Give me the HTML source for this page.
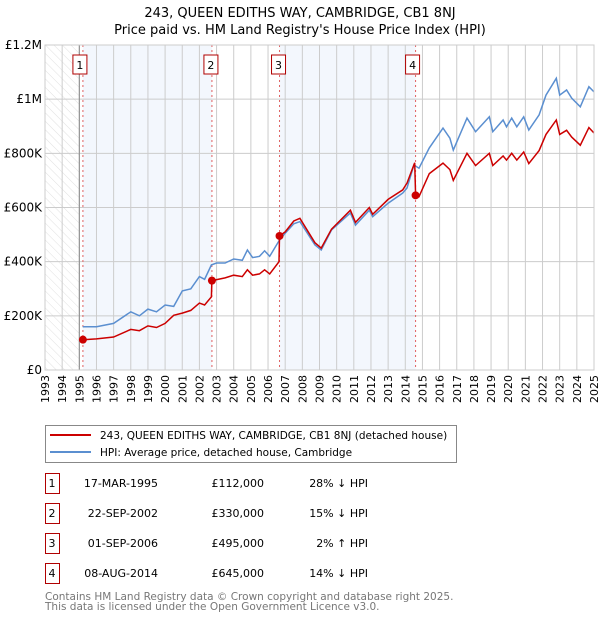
<!DOCTYPE html>
<html><head><meta charset="utf-8"><style>
body{margin:0;background:#fff;font-family:"DejaVu Sans","Liberation Sans",sans-serif;}
svg text{font-family:"DejaVu Sans","Liberation Sans",sans-serif;}
</style></head><body>
<svg id="c" width="600" height="620" viewBox="0 0 600 620" xmlns="http://www.w3.org/2000/svg">
<defs><pattern id="hatch" width="6" height="6" patternUnits="userSpaceOnUse" patternTransform="rotate(-45)"><line x1="0" y1="0" x2="0" y2="6" stroke="#d8d8d8" stroke-width="0.8"/></pattern></defs>
<text x="300" y="17" text-anchor="middle" font-size="13">243, QUEEN EDITHS WAY, CAMBRIDGE, CB1 8NJ</text>
<text x="300" y="34" text-anchor="middle" font-size="13">Price paid vs. HM Land Registry's House Price Index (HPI)</text>
<g id="plot"></g>
<g>
<rect x="45.5" y="425.5" width="411" height="37" fill="#fff" stroke="#888"/>
<line x1="50" y1="435" x2="91" y2="435" stroke="#cc0000" stroke-width="2"/>
<text x="100" y="439" font-size="10.5">243, QUEEN EDITHS WAY, CAMBRIDGE, CB1 8NJ (detached house)</text>
<line x1="50" y1="452" x2="91" y2="452" stroke="#5b8fd0" stroke-width="2"/>
<text x="100" y="456" font-size="10.5">HPI: Average price, detached house, Cambridge</text>
</g>
<g id="table" font-size="11"></g>
<text x="45" y="600" font-size="10.5" fill="#777">Contains HM Land Registry data © Crown copyright and database right 2025.</text>
<text x="45" y="610" font-size="10.5" fill="#777">This data is licensed under the Open Government Licence v3.0.</text>
</svg>
<script>
const hpiYears=[1995.2,1996,1997,1998,1998.5,1999,1999.5,2000,2000.5,2001,2001.5,2002,2002.3,2002.7,2003,2003.5,2004,2004.5,2004.8,2005.1,2005.5,2005.8,2006.1,2006.67,2007,2007.5,2007.86,2008.73,2009.1,2009.7,2010.8,2011.1,2011.9,2012.1,2013,2013.85,2014.1,2014.5,2014.8,2015.4,2016.2,2016.6,2016.8,2017.6,2018.1,2018.9,2019.1,2019.7,2019.9,2020.2,2020.5,2020.9,2021.2,2021.8,2022.2,2022.8,2023.0,2023.4,2023.7,2024.2,2024.7,2025.0];
const hpiValues=[160,160,172,215,200,225,215,240,235,292,300,345,335,388,395,395,410,405,443,415,420,440,420,480,505,540,548,462,443,517,580,535,590,566,616,653,672,757,745,820,893,856,812,930,880,935,880,923,898,930,898,935,886,942,1015,1077,1015,1034,1004,972,1046,1027];
const propYears=[1995.21,1996,1997,1998,1998.5,1999,1999.5,2000,2000.5,2001,2001.5,2002,2002.3,2002.7,2002.73,2003.5,2004,2004.5,2004.8,2005.1,2005.5,2005.8,2006.1,2006.64,2006.67,2007,2007.5,2007.86,2008.73,2009.1,2009.7,2010.8,2011.1,2011.9,2012.1,2013,2013.85,2014.1,2014.55,2014.6,2014.8,2015.4,2016.2,2016.6,2016.8,2017.6,2018.1,2018.9,2019.1,2019.7,2019.9,2020.2,2020.5,2020.9,2021.2,2021.8,2022.2,2022.8,2023.0,2023.4,2023.7,2024.2,2024.7,2025.0];
const propValues=[112,115,122,150,145,163,157,172,202,210,220,247,240,270,330,340,350,345,370,350,355,370,355,400,495,510,550,560,470,450,520,590,545,600,575,630,665,690,765,645,640,725,764,740,700,800,755,800,755,790,775,800,775,805,762,810,870,923,870,885,860,830,895,875];
const saleYears=[1995.21,2002.73,2006.67,2014.6];
const saleValues=[112,330,495,645];
const saleLabels=["1","2","3","4"];
const saleDates=["17-MAR-1995","22-SEP-2002","01-SEP-2006","08-AUG-2014"];
const salePrices=["£112,000","£330,000","£495,000","£645,000"];
const saleHpi=["28% ↓ HPI","15% ↓ HPI","2% ↑ HPI","14% ↓ HPI"];
const yTicks=[0,200,400,600,800,1000,1200];
const yTickLabels=["£0","£200K","£400K","£600K","£800K","£1M","£1.2M"];
const xTicks=[1993,1994,1995,1996,1997,1998,1999,2000,2001,2002,2003,2004,2005,2006,2007,2008,2009,2010,2011,2012,2013,2014,2015,2016,2017,2018,2019,2020,2021,2022,2023,2024,2025];

const X0=45,X1=594,Y0=370,Y1=45;
const xs=y=>X0+(y-1993)/(2025-1993)*(X1-X0);
const ys=v=>Y0-v/1200*(Y0-Y1);
const NS="http://www.w3.org/2000/svg";
const plot=document.getElementById('plot');
function mk(tag,attrs,parent){const e=document.createElementNS(NS,tag);for(const k in attrs)e.setAttribute(k,attrs[k]);(parent||plot).appendChild(e);return e;}

let r;
r=mk('rect',{x:X0,y:Y1,width:X1-X0,height:Y0-Y1,fill:'#fff'});


r=mk('rect',{x:X0,y:Y1,width:xs(1995)-X0,height:Y0-Y1,fill:'url(#hatch)'});


const shades=[[saleYears[0],saleYears[1]],[saleYears[2],saleYears[3]]];
shades.forEach((s,i)=>{const e=mk('rect',{x:xs(s[0]),y:Y1,width:xs(s[1])-xs(s[0]),height:Y0-Y1,fill:'#eef3fc',opacity:0.7});

});
xTicks.forEach(t=>{const e=mk('line',{x1:xs(t),x2:xs(t),y1:Y1,y2:Y0,stroke:'#ccc','stroke-width':1});


const tx=mk('text',{x:0,y:0,'font-size':11,'text-anchor':'end',transform:`translate(${xs(t)+4},${Y0+5}) rotate(-90)`});
tx.textContent=t;

});
yTicks.forEach((t,i)=>{const e=mk('line',{x1:X0,x2:X1,y1:ys(t),y2:ys(t),stroke:'#ccc','stroke-width':1});


const tx=mk('text',{x:X0-3,y:ys(t)+4,'font-size':12,'text-anchor':'end'});
tx.textContent=yTickLabels[i];

});
r=mk('line',{x1:xs(1995),x2:xs(1995),y1:Y1,y2:Y0,stroke:'#888'});


saleYears.forEach((s,i)=>{const e=mk('line',{x1:xs(s),x2:xs(s),y1:Y1,y2:Y0,stroke:'#e06060','stroke-dasharray':'2,3'});

});
function path(xa,va,color,name){const d=xa.map((y,i)=>(i?'L':'M')+xs(y).toFixed(1)+','+ys(va[i]).toFixed(1)).join('');
const e=mk('path',{d:d,fill:'none',stroke:color,'stroke-width':1.5});

}
path(hpiYears,hpiValues,'#5b8fd0','hpi-line');
path(propYears,propValues,'#cc0000','property-line');
saleYears.forEach((s,i)=>{const c=mk('circle',{cx:xs(s),cy:ys(saleValues[i]),r:4,fill:'#cc0000'});


const b=mk('rect',{x:xs(s)-(i==0?10:i==3?10:8),y:55,width:14,height:19,fill:'#fff',stroke:'#b00000'});


const t=mk('text',{x:xs(s)-(i==0?3:i==3?3:1),y:69,'font-size':11,'text-anchor':'middle'});
t.textContent=saleLabels[i];

});
r=mk('rect',{x:X0,y:Y1,width:X1-X0,height:Y0-Y1,fill:'none',stroke:'#ccc'});



const tb=document.getElementById('table');
saleLabels.forEach((l,i)=>{const y=483+i*30;
const b=mk('rect',{x:45.5,y:y-9.5,width:14,height:20,fill:'#fff',stroke:'#b00000'},tb);


const cells=[[52,l,'middle'],[158,saleDates[i],'end'],[264,salePrices[i],'end'],[368,saleHpi[i],'end']];
cells.forEach((c,j)=>{const t=mk('text',{x:c[0],y:y+4,'text-anchor':c[2]},tb);
t.textContent=c[1];

});});
</script>
</body></html>
